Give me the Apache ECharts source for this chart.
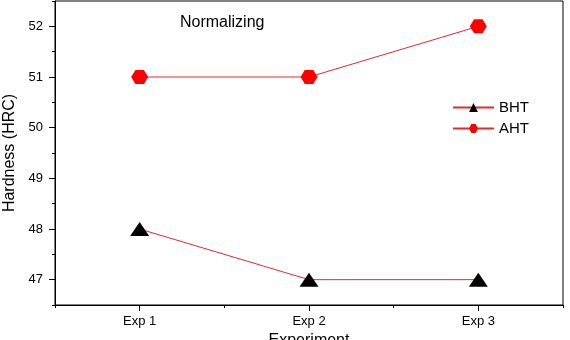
<!DOCTYPE html>
<html>
<head>
<meta charset="utf-8">
<script src="https://cdn.jsdelivr.net/npm/echarts@6/dist/echarts.min.js"></script>
<style>html,body{margin:0;padding:0;background:#fff}#c{width:570px;height:340px}</style>
</head>
<body>
<div id="c"></div>
<script>
const categories = ['Exp 1', 'Exp 2', 'Exp 3'];
const bhtValues = [48, 47, 47];
const ahtValues = [51, 51, 52];
const yTicks = [47, 48, 49, 50, 51, 52];
const FONT = 'Liberation Sans, Arial, sans-serif';
const hexagon = 'path://M0,5 L2.9,0 L8.7,0 L11.6,5 L8.7,10 L2.9,10 Z';

const chart = echarts.init(document.getElementById('c'), null, {renderer: 'canvas'});
chart.setOption({
  animation: false,
  backgroundColor: '#fff',
  title: {
    text: 'Normalizing', left: 180, top: 15, padding: 0,
    textStyle: {fontFamily: FONT, fontSize: 16, fontWeight: 'normal', color: '#000'}
  },
  legend: {
    orient: 'vertical', left: 452, top: 100, padding: 0,
    itemWidth: 41, itemHeight: 11, itemGap: 6,
    textStyle: {fontFamily: FONT, fontSize: 15, color: '#000'},
    data: ['BHT', 'AHT']
  },
  grid: {left: 55, right: 7, top: 1, bottom: 35, show: true, borderColor: '#000', borderWidth: 1,
         containLabel: false, outerBoundsMode: 'none'},
  xAxis: [{
    type: 'category', data: categories, boundaryGap: true,
    name: 'Experiment', nameLocation: 'middle', nameGap: 26,
    nameTextStyle: {fontFamily: FONT, fontSize: 16, color: '#000'},
    axisLine: {show: true, lineStyle: {color: '#000', width: 1}},
    axisTick: {show: true, length: 3, lineStyle: {color: '#000'}},
    axisLabel: {fontFamily: FONT, fontSize: 13, color: '#000', margin: 10},
    splitLine: {show: false}
  }, {
    type: 'category', data: categories, boundaryGap: true, position: 'bottom',
    axisLine: {show: false},
    axisTick: {show: true, alignWithLabel: true, length: 6, lineStyle: {color: '#000'}},
    axisLabel: {show: false},
    splitLine: {show: false}
  }],
  yAxis: [{
    type: 'value', min: 46.5, max: 52.5, interval: 0.5,
    name: 'Hardness (HRC)', nameLocation: 'middle', nameGap: 36,
    nameTextStyle: {fontFamily: FONT, fontSize: 16, color: '#000'},
    axisLine: {show: true, lineStyle: {color: '#000', width: 1}},
    axisTick: {show: true, length: 3, lineStyle: {color: '#000'}},
    axisLabel: {fontFamily: FONT, fontSize: 13, color: '#000', margin: 12, customValues: yTicks},
    splitLine: {show: false}
  }, {
    type: 'value', min: 46.5, max: 52.5, interval: 0.5, position: 'left',
    axisLine: {show: false},
    axisTick: {show: true, length: 6, customValues: yTicks, lineStyle: {color: '#000'}},
    axisLabel: {show: false},
    splitLine: {show: false}
  }],
  series: [{
    name: 'BHT', type: 'line', data: bhtValues,
    symbol: 'triangle', symbolSize: [19, 14],
    itemStyle: {color: '#000'},
    lineStyle: {color: '#e8282d', width: 1},
    z: 3
  }, {
    name: 'AHT', type: 'line', data: ahtValues,
    symbol: hexagon, symbolSize: [17, 14],
    itemStyle: {color: '#f00'},
    lineStyle: {color: '#e8282d', width: 1},
    z: 3
  }]
});
</script>
</body>
</html>
